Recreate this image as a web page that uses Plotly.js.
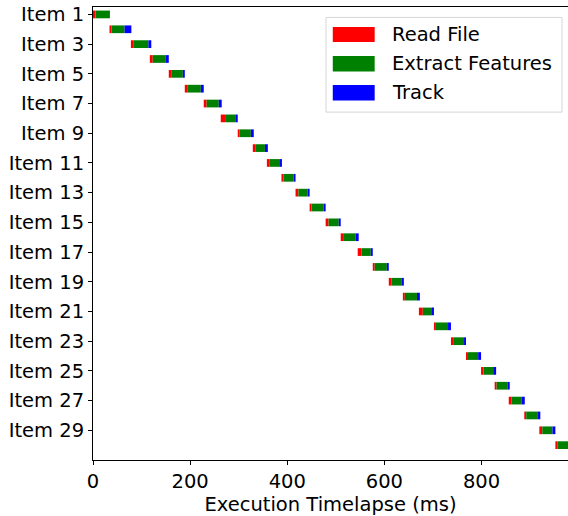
<!DOCTYPE html>
<html>
<head>
<meta charset="utf-8">
<script src="https://cdn.plot.ly/plotly-3.0.1.min.js"></script>
<style>html,body{margin:0;padding:0;background:#fff;}#chart{width:568px;height:516px;}</style>
</head>
<body>
<div id="chart"></div>
<script>
// Data (ms)
const items = Array.from({length: 30}, (_, i) => "Item " + (i + 1));
const starts  = [0, 34, 78, 117, 156, 189, 228, 263, 298, 329, 358, 388, 417, 446, 479, 510, 545, 576, 609, 638, 671, 702, 737, 768, 799, 827, 856, 888, 919, 952];
const readFile = [5, 4, 6, 6, 5, 5, 6, 9, 4, 5, 6, 4, 6, 4, 6, 5, 8, 4, 6, 4, 8, 4, 6, 4, 5, 4, 6, 4, 6, 4];
const extractFeatures = [28, 27, 30, 27, 24, 28, 25, 21, 23, 20, 21, 21, 19, 25, 21, 26, 19, 25, 21, 25, 19, 25, 21, 21, 20, 23, 21, 23, 21, 23];
const track = [1.5, 14, 6, 6, 4, 6, 6, 5, 6, 6, 4, 4, 4, 4, 4, 6, 4, 4, 4, 6, 4, 6, 4, 6, 6, 4, 6, 6, 6, 6];
const seriesNames = ["Read File", "Extract Features", "Track"];
const seriesColors = ["#ff0000", "#008000", "#0000ff"];
const xTicks = [0, 200, 400, 600, 800];

const yIdx = items.map((_, i) => i);
const baseRead = starts.slice();
const baseExtract = starts.map((s, i) => s + readFile[i]);
const baseTrack = starts.map((s, i) => s + readFile[i] + extractFeatures[i]);
const durations = [readFile, extractFeatures, track];
const bases = [baseRead, baseExtract, baseTrack];

const FONT = "DejaVu Sans, sans-serif";
const traces = seriesNames.map((name, k) => ({
  type: "bar",
  orientation: "h",
  name: name,
  y: yIdx,
  x: durations[k],
  base: bases[k],
  width: 0.52,
  marker: {color: seriesColors[k], line: {width: 0}},
  showlegend: false,
  hoverinfo: "skip"
}));

// Custom matplotlib-style legend (paper coords)
const shapes = [{
  type: "rect", xref: "paper", yref: "paper",
  x0: 0.4905, x1: 0.9874, y0: 0.768, y1: 0.977,
  line: {color: "#d6d6d6", width: 1}, fillcolor: "rgba(255,255,255,0.8)", layer: "above"
}];
const annotations = [];
const patchY = [[0.9558, 0.9227], [0.8918, 0.8576], [0.8278, 0.7936]];
seriesNames.forEach((name, k) => {
  shapes.push({
    type: "rect", xref: "paper", yref: "paper",
    x0: 0.5048, x1: 0.593, y0: patchY[k][1], y1: patchY[k][0],
    line: {width: 0}, fillcolor: seriesColors[k], layer: "above"
  });
  annotations.push({
    xref: "paper", yref: "paper", x: 0.6253, y: (patchY[k][0] + patchY[k][1]) / 2,
    xanchor: "left", yanchor: "middle", showarrow: false,
    text: name, font: {family: FONT, size: 19.5, color: "#000"}
  });
});

const layout = {
  width: 568, height: 516,
  margin: {l: 93, r: 0, t: 7, b: 56, pad: 0},
  paper_bgcolor: "#fff", plot_bgcolor: "#fff",
  barmode: "overlay",
  font: {family: FONT, size: 19.5, color: "#000"},
  xaxis: {
    range: [0, 978],
    tickvals: xTicks,
    ticktext: xTicks.map(String),
    ticks: "outside", ticklen: 4, tickwidth: 1, tickcolor: "#000",
    showline: true, linecolor: "#000", linewidth: 1, mirror: true,
    showgrid: false, zeroline: false,
    tickfont: {family: FONT, size: 19.5, color: "#000"},
    title: {text: "Execution Timelapse (ms)", font: {family: FONT, size: 19.5, color: "#000"}, standoff: 6}
  },
  yaxis: {
    range: [30, -0.5],
    tickvals: yIdx.filter(i => i % 2 === 0),
    ticktext: items.filter((_, i) => i % 2 === 0),
    ticks: "outside", ticklen: 4, tickwidth: 1, tickcolor: "#000",
    showline: true, linecolor: "#000", linewidth: 1, mirror: false,
    showgrid: false, zeroline: false,
    tickfont: {family: FONT, size: 19.5, color: "#000"}
  },
  shapes: shapes,
  annotations: annotations
};

Plotly.newPlot("chart", traces, layout, {displayModeBar: false, staticPlot: true});
</script>
</body>
</html>
